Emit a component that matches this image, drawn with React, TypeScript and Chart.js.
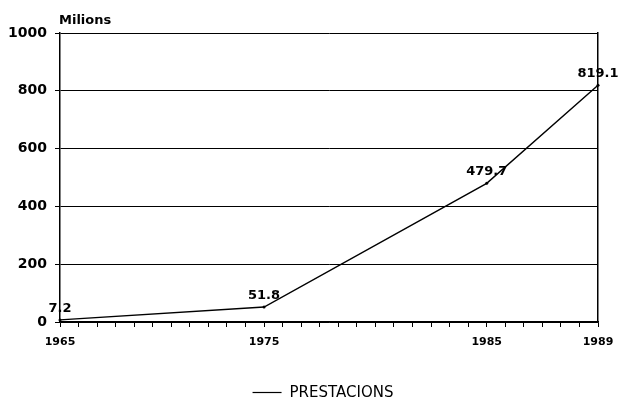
import React, { useEffect, useRef } from "react";
import { Chart, registerables } from "chart.js";

Chart.register(...registerables);

const tickLabels = [
  "1965", "", "", "", "", "", "", "", "", "", "",
  "1975", "", "", "", "", "", "", "", "", "", "", "",
  "1985", "", "", "", "", "",
  "1989",
];
const seriesYears = ["1965", "1975", "1985", "1989"];
const seriesValues = [7.2, 51.8, 479.7, 819.1];
const seriesName = "PRESTACIONS";
const yTicks = [0, 200, 400, 600, 800, 1000];
const yUnit = "Milions";

const FONT = "'DejaVu Sans', 'Liberation Sans', sans-serif";

const overlayPlugin = {
  id: "overlay",
  afterDatasetsDraw(chart: any) {
    const { ctx, chartArea } = chart;
    ctx.save();
    ctx.fillStyle = "#000";
    ctx.font = `bold 13px ${FONT}`;
    ctx.textAlign = "left";
    ctx.textBaseline = "alphabetic";
    ctx.fillText(yUnit, chartArea.left - 1, chartArea.top - 9);
    const meta = chart.getDatasetMeta(0);
    const data = chart.data.datasets[0].data;
    ctx.font = `bold 13px ${FONT}`;
    ctx.textAlign = "center";
    meta.data.forEach((pt: any, i: number) => {
      const v = data[i];
      if (v === null || v === undefined) return;
      ctx.fillText(String(v), pt.x, pt.y - 8);
    });
    const cx = 323;
    const ly = 392;
    ctx.font = `15px ${FONT}`;
    const tw = ctx.measureText(seriesName).width;
    const total = 29 + 8 + tw;
    const x0 = cx - total / 2;
    ctx.strokeStyle = "#000";
    ctx.lineWidth = 1.2;
    ctx.beginPath();
    ctx.moveTo(x0, ly + 0.5);
    ctx.lineTo(x0 + 29, ly + 0.5);
    ctx.stroke();
    ctx.textAlign = "left";
    ctx.textBaseline = "middle";
    ctx.fillText(seriesName, x0 + 37, ly + 1);
    ctx.restore();
  },
};

export default function App() {
  const ref = useRef<HTMLCanvasElement | null>(null);

  useEffect(() => {
    document.body.style.margin = "0";
    const values = tickLabels.map((l) => {
      const idx = l === "" ? -1 : seriesYears.indexOf(l);
      return idx >= 0 ? seriesValues[idx] : null;
    });
    const chart = new Chart(ref.current as HTMLCanvasElement, {
      type: "line",
      data: {
        labels: tickLabels,
        datasets: [
          {
            label: seriesName,
            data: values,
            borderColor: "#000",
            backgroundColor: "#000",
            borderWidth: 1.4,
            pointRadius: 1.5,
            pointBackgroundColor: "#000",
            pointBorderWidth: 0,
            spanGaps: true,
            tension: 0,
          },
        ],
      },
      options: {
        animation: false,
        responsive: false,
        maintainAspectRatio: false,
        layout: { padding: { left: 0, right: 20, top: 33, bottom: 48 } },
        plugins: {
          legend: { display: false },
          tooltip: { enabled: false },
        },
        scales: {
          x: {
            type: "category",
            offset: false,
            grid: {
              drawOnChartArea: false,
              drawTicks: true,
              tickLength: 5,
              color: "#000",
              lineWidth: 1,
            },
            border: { display: true, color: "#000", width: 1.5 },
            ticks: {
              autoSkip: false,
              maxRotation: 0,
              minRotation: 0,
              padding: 9,
              color: "#000",
              font: { family: FONT, size: 11, weight: "bold" },
            },
            afterFit(scale: any) {
              scale.height = 30;
              scale.paddingLeft = 0;
              scale.paddingRight = 0;
            },
          },
          y: {
            min: 0,
            max: 1000,
            afterBuildTicks(scale: any) {
              scale.ticks = yTicks.map((v) => ({ value: v }));
            },
            grid: {
              color: "#000",
              lineWidth: 1,
              drawTicks: true,
              tickLength: 5,
            },
            border: { display: true, color: "#000", width: 1.5 },
            ticks: {
              padding: 8,
              color: "#000",
              font: { family: FONT, size: 14, weight: "bold" },
              callback: (v: any) => String(v),
            },
            afterFit(scale: any) {
              scale.width = 60;
            },
          },
          y2: {
            position: "right",
            min: 0,
            max: 1000,
            grid: { drawOnChartArea: false, drawTicks: false },
            border: { display: true, color: "#000", width: 1.5 },
            ticks: { display: false },
            afterFit(scale: any) {
              scale.width = 0;
            },
          },
        },
      },
      plugins: [overlayPlugin],
    } as any);
    return () => chart.destroy();
  }, []);

  return (
    <div style={{ width: 618, height: 400 }}>
      <canvas ref={ref} width={618} height={400} style={{ display: "block" }} />
    </div>
  );
}
